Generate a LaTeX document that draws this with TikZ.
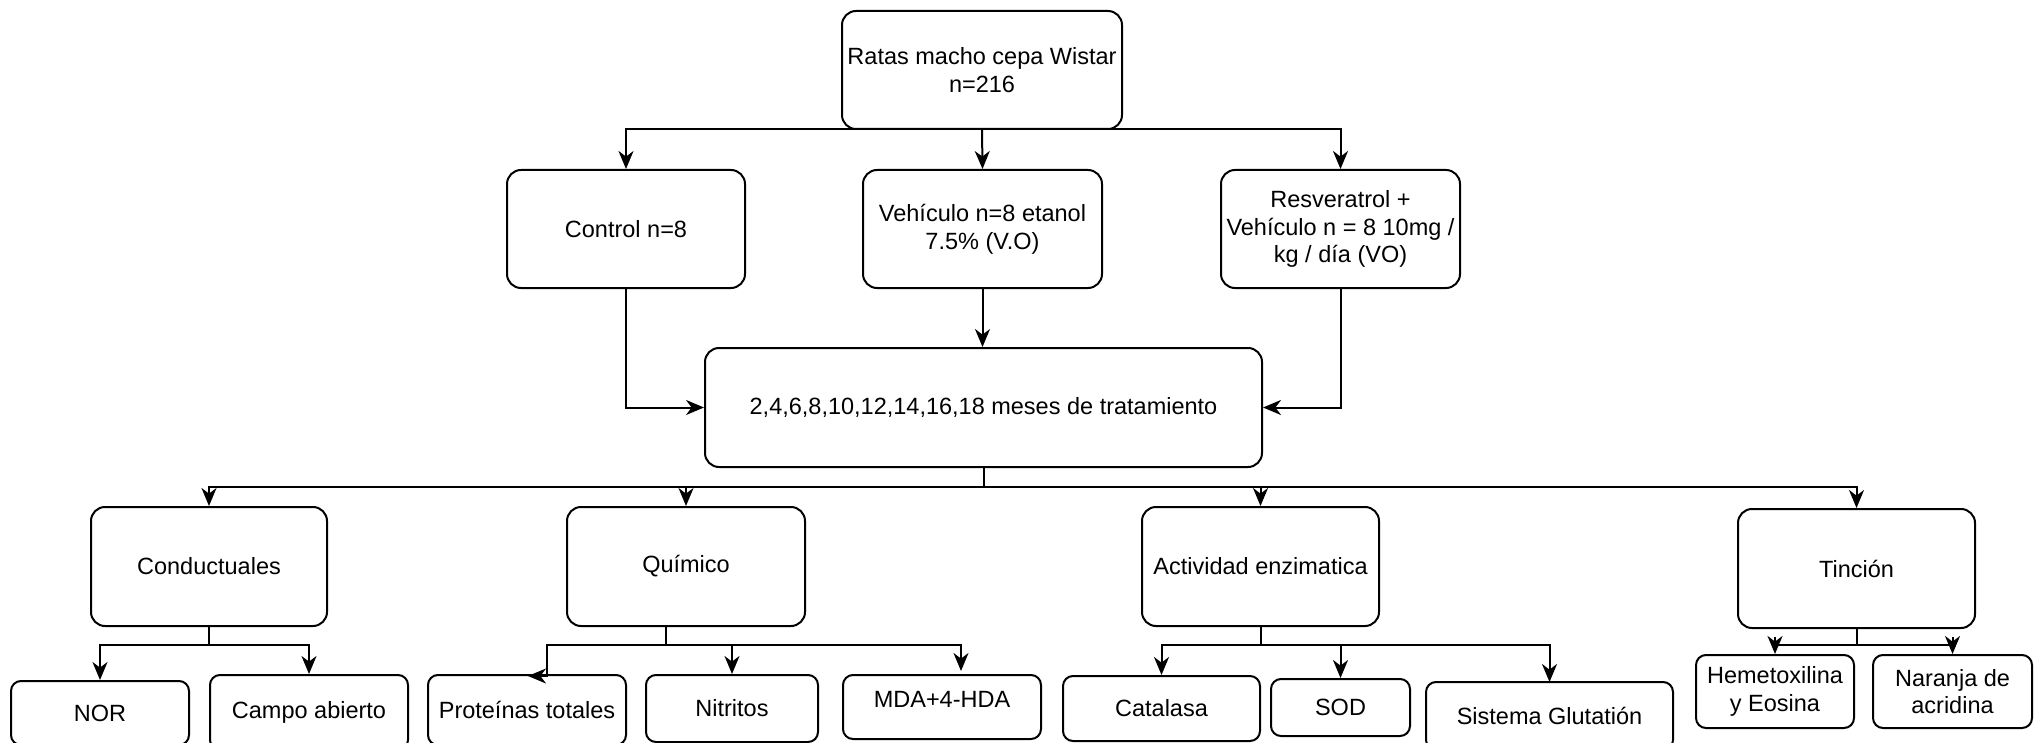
\documentclass[tikz,border=0pt]{standalone}
\usepackage{fontspec}
\setmainfont{Liberation Sans}
\usetikzlibrary{arrows.meta}
\tikzset{
  box/.style={draw=black, line width=1pt, rounded corners=7pt, fill=white, align=center, inner sep=0pt, font=\fontsize{11.75}{13.8}\selectfont},
  sbox/.style={box, rounded corners=5pt},
  conn/.style={draw=black, line width=1pt},
  arr/.style={conn, -{Stealth[length=9pt, width=7.5pt, inset=2.8pt]}}
}
\begin{document}
\begin{tikzpicture}[x=0.5pt, y=-0.5pt]
\useasboundingbox (0,0) rectangle (2039,743);
\clip (0,0) rectangle (2039,743);
\fill[white] (0,0) rectangle (2039,743);

% level 0
\node[box, minimum width=140pt, minimum height=59pt] (top) at (982,70) {Ratas macho cepa Wistar\\n=216};
% level 1
\node[box, minimum width=119pt, minimum height=59pt] (ctrl) at (626,229) {Control n=8};
\node[box, minimum width=119.5pt, minimum height=59pt] (veh) at (982.5,229) {Vehículo n=8 etanol\\7.5\% (V.O)};
\node[box, minimum width=119.5pt, minimum height=59pt] (res) at (1340.5,229) {Resveratrol +\\Vehículo n = 8 10mg /\\kg / día (VO)};
% level 2
\node[box, minimum width=278.5pt, minimum height=59.5pt] (mid) at (983.5,407.5) {2,4,6,8,10,12,14,16,18 meses de tratamiento};
% level 3
\node[box, minimum width=118pt, minimum height=59.5pt] (cond) at (209,566.5) {Conductuales};
\node[box, minimum width=119pt, minimum height=59.5pt] (quim) at (686,566.5) {Químico};
\node[box, minimum width=118.5pt, minimum height=59.5pt] (act) at (1260.5,566.5) {Actividad enzimatica};
\node[box, minimum width=118.5pt, minimum height=59.5pt] (tin) at (1856.5,568.5) {Tinción};
% level 4
\node[sbox, minimum width=89pt, minimum height=32pt] (nor) at (100,713) {NOR};
\node[sbox, minimum width=99pt, minimum height=37.5pt] (campo) at (309,712.5) {Campo abierto};
\node[sbox, minimum width=99pt, minimum height=35pt] (prot) at (527,710) {Proteínas totales};
\node[sbox, minimum width=86pt, minimum height=33.5pt] (nit) at (732,708.5) {Nitritos};
\node[sbox, minimum width=99pt, minimum height=32pt, text depth=8pt] (mda) at (942,707) {MDA+4-HDA};
\node[sbox, minimum width=98.5pt, minimum height=32.5pt] (cat) at (1161.5,708.5) {Catalasa};
\node[sbox, minimum width=69.5pt, minimum height=28.5pt] (sod) at (1340.5,707.5) {SOD};
\node[sbox, minimum width=123.5pt, minimum height=34pt] (sis) at (1549.5,716) {Sistema Glutatión};
\node[sbox, minimum width=79pt, minimum height=36.5pt] (hem) at (1775,691.5) {Hemetoxilina\\y Eosina};
\node[sbox, minimum width=79.5pt, minimum height=36.5pt] (nar) at (1952.5,691.5) {Naranja de\\acridina};

% bus coordinates
\coordinate (b0) at (982,129);
\coordinate (b1) at (983.5,487);
\coordinate (bc) at (209,645);
\coordinate (qd) at (665.6,626);
\coordinate (bq) at (665.6,645);
\coordinate (ptip) at (546.5,676);
\coordinate (pend) at (528,676);
\coordinate (mtip) at (961,671);
\coordinate (ba) at (1260.5,645);
\coordinate (bt) at (1856.5,645);
\coordinate (stip) at (1549.5,682);
\coordinate (hs) at (1775,637);
\coordinate (ns) at (1952.5,637);

% top to level 1
\draw[arr] (b0) -| (ctrl.north);
\draw[arr] (b0) -- (veh.north);
\draw[arr] (b0) -| (res.north);
% level 1 to mid
\draw[arr] (ctrl.south) |- (mid.west);
\draw[arr] (veh.south) -- (veh.south |- mid.north);
\draw[arr] (res.south) |- (mid.east);
% mid to level 3
\draw[conn] (mid.south) -- (b1);
\draw[arr] (b1) -| (cond.north);
\draw[arr] (b1) -| (quim.north);
\draw[arr] (b1) -| (act.north);
\draw[arr] (b1) -| (tin.north);
% conductuales
\draw[conn] (cond.south) -- (bc);
\draw[arr] (bc) -| (nor.north);
\draw[arr] (bc) -| (campo.north);
% quimico
\draw[conn] (qd) -- (bq);
\draw[arr] (bq) -| (ptip) -- (pend);
\draw[arr] (bq) -| (nit.north);
\draw[arr] (bq) -| (mtip);
% actividad
\draw[conn] (act.south) -- (ba);
\draw[arr] (ba) -| (cat.north);
\draw[arr] (ba) -| (sod.north);
\draw[arr] (ba) -| (stip);
% tincion
\draw[conn] (tin.south) -- (bt);
\draw[conn] (hs |- bt) -- (bt) -- (ns |- bt);
\draw[arr] (hs) -- (hem.north);
\draw[arr] (ns) -- (nar.north);
\end{tikzpicture}
\end{document}
